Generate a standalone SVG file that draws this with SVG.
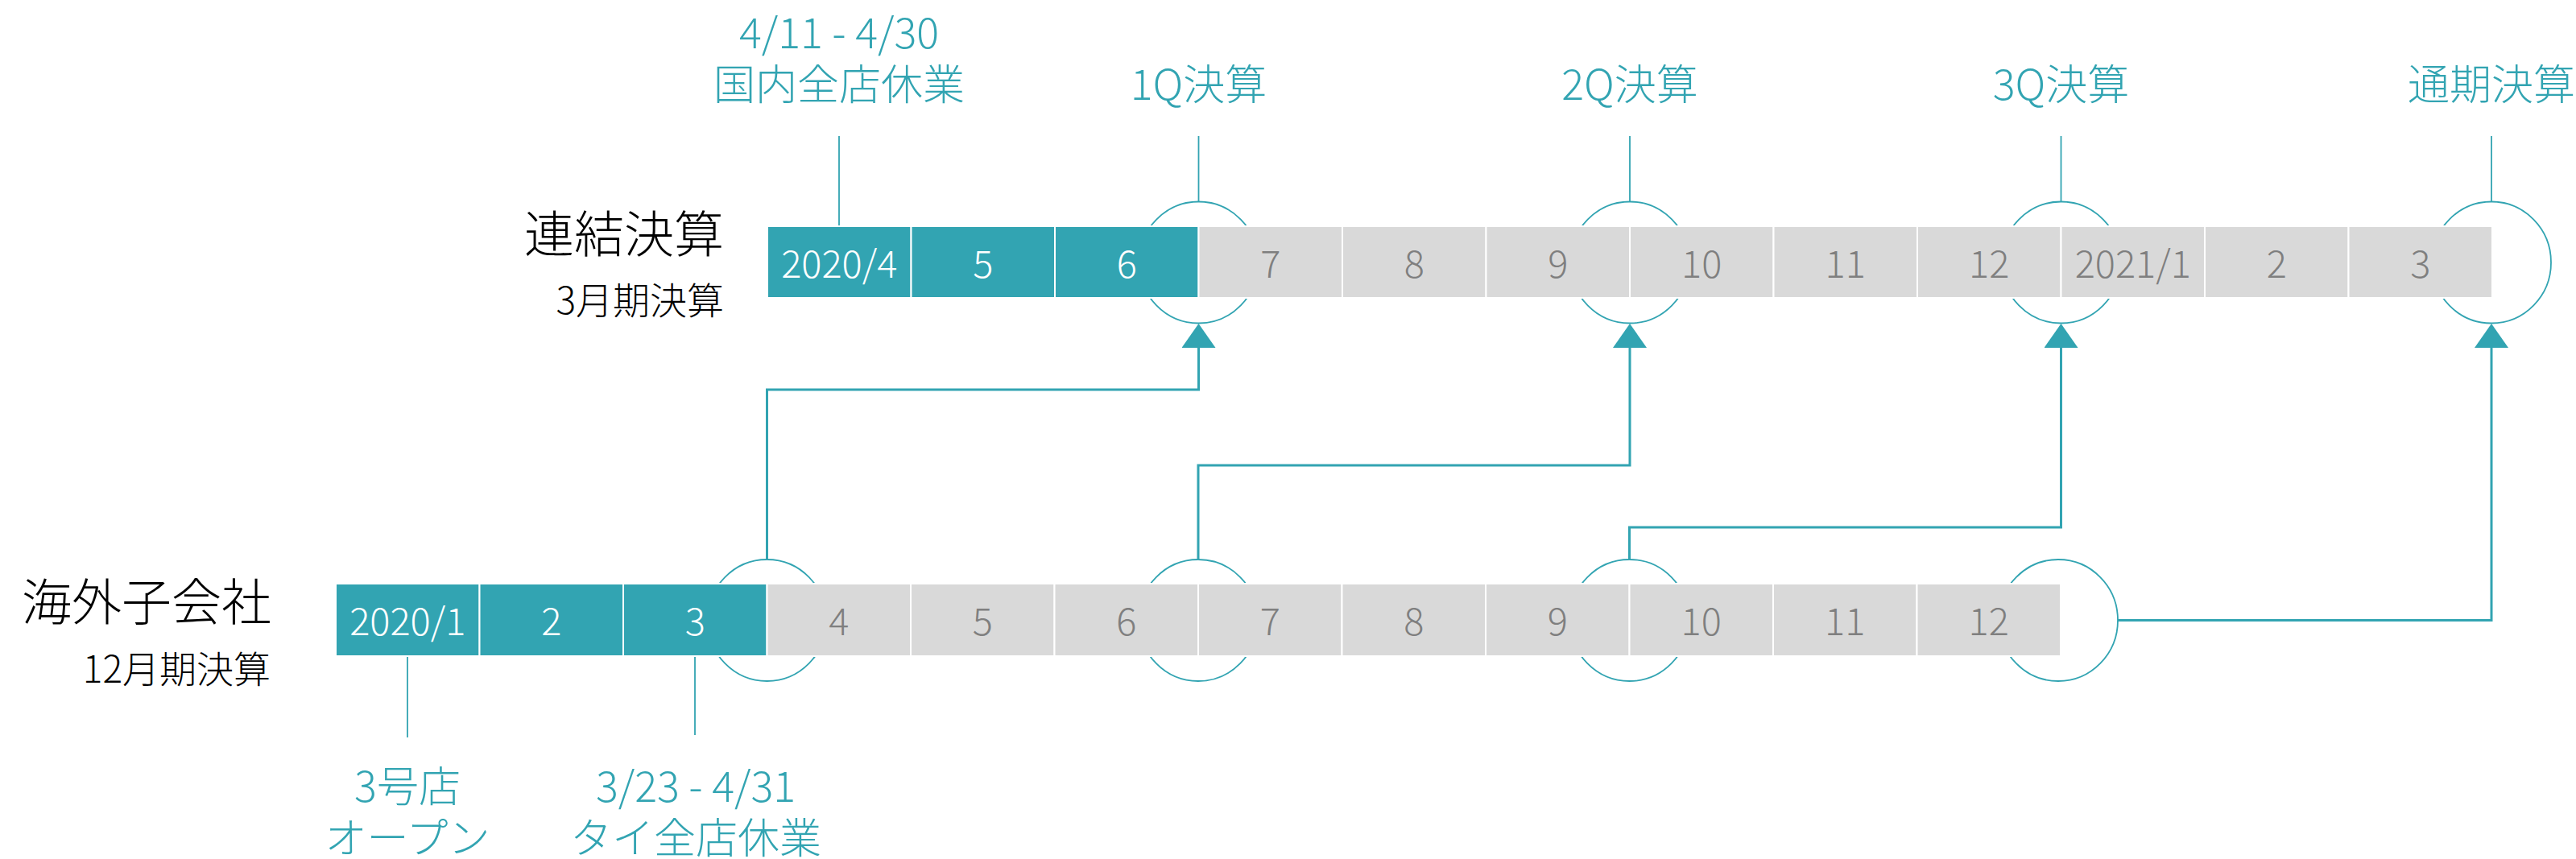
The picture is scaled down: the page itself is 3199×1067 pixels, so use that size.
<svg xmlns="http://www.w3.org/2000/svg" width="3199" height="1067" viewBox="0 0 3199 1067">
<defs>
<style>
.bg{fill:#ffffff}
.cT{fill:#32A4B2;stroke:#ffffff;stroke-width:2}
.cG{fill:#D9D9D9;stroke:#ffffff;stroke-width:2}
text{font-family:"Noto Sans CJK JP","Noto Sans",sans-serif;font-weight:300}
.tW{font-size:47px;fill:#ffffff;text-anchor:middle}
.tG{font-size:47px;fill:#7F7F7F;text-anchor:middle}
.ann{font-size:52px;fill:#32A4B2;text-anchor:middle}
.ttl{font-size:62px;fill:#000000;text-anchor:end}
.sub{font-size:46px;fill:#000000;text-anchor:end}
.ring{fill:#ffffff;stroke:#32A4B2;stroke-width:1.8}
.thin{fill:none;stroke:#32A4B2;stroke-width:1.8}
.conn{fill:none;stroke:#32A4B2;stroke-width:3}
</style>
<marker id="arr" viewBox="0 0 30 42" refX="0" refY="21" markerWidth="30" markerHeight="42" markerUnits="userSpaceOnUse" orient="auto">
<path d="M0,0 L30,21 L0,42 z" fill="#32A4B2"/>
</marker>
</defs>
<rect class="bg" x="0" y="0" width="3199" height="1067"/>

<!-- rings (behind bars) -->
<g id="rings">
<ellipse class="ring" cx="1488.5" cy="326" rx="74" ry="75.5"/>
<ellipse class="ring" cx="2024" cy="326" rx="74" ry="75.5"/>
<ellipse class="ring" cx="2559.5" cy="326" rx="74" ry="75.5"/>
<ellipse class="ring" cx="3094" cy="326" rx="74" ry="75.5"/>
<ellipse class="ring" cx="952.5" cy="770.5" rx="74" ry="75.5"/>
<ellipse class="ring" cx="1488" cy="770.5" rx="74" ry="75.5"/>
<ellipse class="ring" cx="2023.5" cy="770.5" rx="74" ry="75.5"/>
<ellipse class="ring" cx="2556" cy="770.5" rx="74" ry="75.5"/>
</g>

<!-- annotation leader lines -->
<g id="leaders">
<line class="thin" x1="1042" y1="169" x2="1042" y2="281"/>
<line class="thin" x1="1488.5" y1="169" x2="1488.5" y2="251"/>
<line class="thin" x1="2024" y1="169" x2="2024" y2="251"/>
<line class="thin" x1="2559.5" y1="169" x2="2559.5" y2="251"/>
<line class="thin" x1="3094" y1="169" x2="3094" y2="251"/>
<line class="thin" x1="506" y1="815" x2="506" y2="916"/>
<line class="thin" x1="863" y1="815" x2="863" y2="913"/>
</g>

<!-- top bar: consolidated -->
<g id="top-bar">
<g id="t-2020-4"><rect class="cT" x="953" y="281" width="178.5" height="89"/><text class="tW" x="1042.25" y="345">2020/4</text></g>
<g id="t-5"><rect class="cT" x="1131.5" y="281" width="178.5" height="89"/><text class="tW" x="1220.75" y="345">5</text></g>
<g id="t-6"><rect class="cT" x="1310" y="281" width="178.5" height="89"/><text class="tW" x="1399.25" y="345">6</text></g>
<g id="t-7"><rect class="cG" x="1488.5" y="281" width="178.5" height="89"/><text class="tG" x="1577.75" y="345">7</text></g>
<g id="t-8"><rect class="cG" x="1667" y="281" width="178.5" height="89"/><text class="tG" x="1756.25" y="345">8</text></g>
<g id="t-9"><rect class="cG" x="1845.5" y="281" width="178.5" height="89"/><text class="tG" x="1934.75" y="345">9</text></g>
<g id="t-10"><rect class="cG" x="2024" y="281" width="178.5" height="89"/><text class="tG" x="2113.25" y="345">10</text></g>
<g id="t-11"><rect class="cG" x="2202.5" y="281" width="178.5" height="89"/><text class="tG" x="2291.75" y="345">11</text></g>
<g id="t-12"><rect class="cG" x="2381" y="281" width="178.5" height="89"/><text class="tG" x="2470.25" y="345">12</text></g>
<g id="t-2021-1"><rect class="cG" x="2559.5" y="281" width="178.5" height="89"/><text class="tG" x="2648.75" y="345">2021/1</text></g>
<g id="t-2"><rect class="cG" x="2738" y="281" width="178.5" height="89"/><text class="tG" x="2827.25" y="345">2</text></g>
<g id="t-3"><rect class="cG" x="2916.5" y="281" width="178.5" height="89"/><text class="tG" x="3005.75" y="345">3</text></g>
</g>

<!-- bottom bar: overseas subsidiary -->
<g id="bottom-bar">
<g id="b-2020-1"><rect class="cT" x="417" y="725" width="178.5" height="90"/><text class="tW" x="506.25" y="789">2020/1</text></g>
<g id="b-2"><rect class="cT" x="595.5" y="725" width="178.5" height="90"/><text class="tW" x="684.75" y="789">2</text></g>
<g id="b-3"><rect class="cT" x="774" y="725" width="178.5" height="90"/><text class="tW" x="863.25" y="789">3</text></g>
<g id="b-4"><rect class="cG" x="952.5" y="725" width="178.5" height="90"/><text class="tG" x="1041.75" y="789">4</text></g>
<g id="b-5"><rect class="cG" x="1131" y="725" width="178.5" height="90"/><text class="tG" x="1220.25" y="789">5</text></g>
<g id="b-6"><rect class="cG" x="1309.5" y="725" width="178.5" height="90"/><text class="tG" x="1398.75" y="789">6</text></g>
<g id="b-7"><rect class="cG" x="1488" y="725" width="178.5" height="90"/><text class="tG" x="1577.25" y="789">7</text></g>
<g id="b-8"><rect class="cG" x="1666.5" y="725" width="178.5" height="90"/><text class="tG" x="1755.75" y="789">8</text></g>
<g id="b-9"><rect class="cG" x="1845" y="725" width="178.5" height="90"/><text class="tG" x="1934.25" y="789">9</text></g>
<g id="b-10"><rect class="cG" x="2023.5" y="725" width="178.5" height="90"/><text class="tG" x="2112.75" y="789">10</text></g>
<g id="b-11"><rect class="cG" x="2202" y="725" width="178.5" height="90"/><text class="tG" x="2291.25" y="789">11</text></g>
<g id="b-12"><rect class="cG" x="2380.5" y="725" width="178.5" height="90"/><text class="tG" x="2469.75" y="789">12</text></g>
</g>

<!-- row titles -->
<g id="title-top">
<text class="ttl" x="899" y="314">連結決算</text>
<text class="sub" x="899" y="390">3月期決算</text>
</g>
<g id="title-bottom">
<text class="ttl" x="337" y="771">海外子会社</text>
<text class="sub" x="336" y="848">12月期決算</text>
</g>

<!-- annotations -->
<g id="ann-domestic"><text class="ann" x="1042" y="60">4/11 - 4/30</text><text class="ann" x="1042" y="124">国内全店休業</text></g>
<g id="ann-1q"><text class="ann" x="1488.5" y="124">1Q決算</text></g>
<g id="ann-2q"><text class="ann" x="2024" y="124">2Q決算</text></g>
<g id="ann-3q"><text class="ann" x="2559.5" y="124">3Q決算</text></g>
<g id="ann-fy"><text class="ann" x="3094" y="124">通期決算</text></g>
<g id="ann-store3"><text class="ann" x="506" y="996">3号店</text><text class="ann" x="506" y="1060">オープン</text></g>
<g id="ann-thai"><text class="ann" x="864" y="996">3/23 - 4/31</text><text class="ann" x="864" y="1060">タイ全店休業</text></g>

<!-- connectors -->
<g id="connectors">
<path class="conn" d="M952.5,695 V484 H1488.5 V432" marker-end="url(#arr)"/>
<path class="conn" d="M1488,695 V578 H2024 V432" marker-end="url(#arr)"/>
<path class="conn" d="M2023.5,695 V655 H2559.5 V432" marker-end="url(#arr)"/>
<path class="conn" d="M2630,770.5 H3094 V432" marker-end="url(#arr)"/>
</g>
</svg>
